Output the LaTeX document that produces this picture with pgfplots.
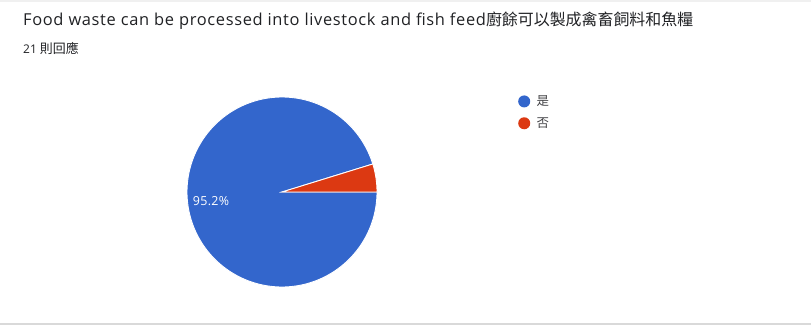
\documentclass[border=0pt]{standalone}
\usepackage{pgfplots}
\pgfplotsset{compat=1.18}
\usepackage{fontspec}
\setmainfont{Open Sans}
\newfontfamily\titlefont[LetterSpace=4]{Open Sans}
\newfontfamily\labelfont[LetterSpace=3]{Open Sans}
\newfontfamily\cjk{Noto Sans CJK TC}
\definecolor{pieblue}{HTML}{3366CC}
\definecolor{piered}{HTML}{DC3912}
\definecolor{titlegray}{HTML}{202124}
\def\nYes{20}
\def\nNo{1}
\begin{document}
\begin{tikzpicture}
\pgfmathsetmacro{\total}{\nYes+\nNo}
\pgfmathsetmacro{\angNo}{360*\nNo/\total}
\pgfmathsetmacro{\pctYes}{100*\nYes/\total}
\begin{axis}[
  width=811bp, height=326bp, scale only axis,
  xmin=0, xmax=811, ymin=0, ymax=326, y dir=reverse,
  axis lines=none, ticks=none, clip=false,
  /pgf/number format/assume math mode=true,
  legend style={at={(axis cs:518,94)}, anchor=north west, draw=none, fill=none,
    inner sep=0pt, row sep=7.5bp, column sep=5bp, font=\cjk\fontsize{12.5}{14}\selectfont,
    nodes={inner sep=1.5bp, text=titlegray!85}},
  legend cell align=left,
  legend image code/.code={\fill[#1, draw=none] (3bp,0bp) circle (6bp);},
]
% card edges
\fill[gray!12] (axis cs:0,0) rectangle (axis cs:811,2.5);
\fill[gray!30] (axis cs:0,322.5) rectangle (axis cs:811,324.5);
% pie
\addplot[fill=pieblue, draw=white, line width=0.9pt, domain=\angNo:360, samples=180, variable=\t]
  ({282+95*cos(t)},{192-95*sin(t)}) -- (axis cs:282,192) -- cycle;
\addlegendentry{是}
\addplot[fill=piered, draw=white, line width=0.9pt, domain=0:\angNo, samples=30, variable=\t]
  ({282+95*cos(t)},{192-95*sin(t)}) -- (axis cs:282,192) -- cycle;
\addlegendentry{否}
% texts
\node[anchor=base west, inner sep=0pt, text=titlegray, font=\titlefont\fontsize{16.5}{19}\selectfont]
  at (axis cs:23,25.5) {Food waste can be processed into livestock and fish feed{\cjk\fontsize{16}{20}\selectfont 廚餘可以製成禽畜飼料和魚糧}};
\node[anchor=base west, inner sep=0pt, text=titlegray, font=\fontsize{12}{14}\selectfont]
  at (axis cs:23,53) {21 {\cjk\fontsize{13}{14}\selectfont 則回應}};
\node[anchor=center, inner sep=0pt, text=white, font=\labelfont\fontsize{12.5}{14}\selectfont]
  at (axis cs:211,201) {\pgfmathprintnumber[fixed,precision=1]{\pctYes}\%};
\end{axis}
\pgfresetboundingbox
\path (current axis.south west) rectangle (current axis.north east);
\end{tikzpicture}
\end{document}
